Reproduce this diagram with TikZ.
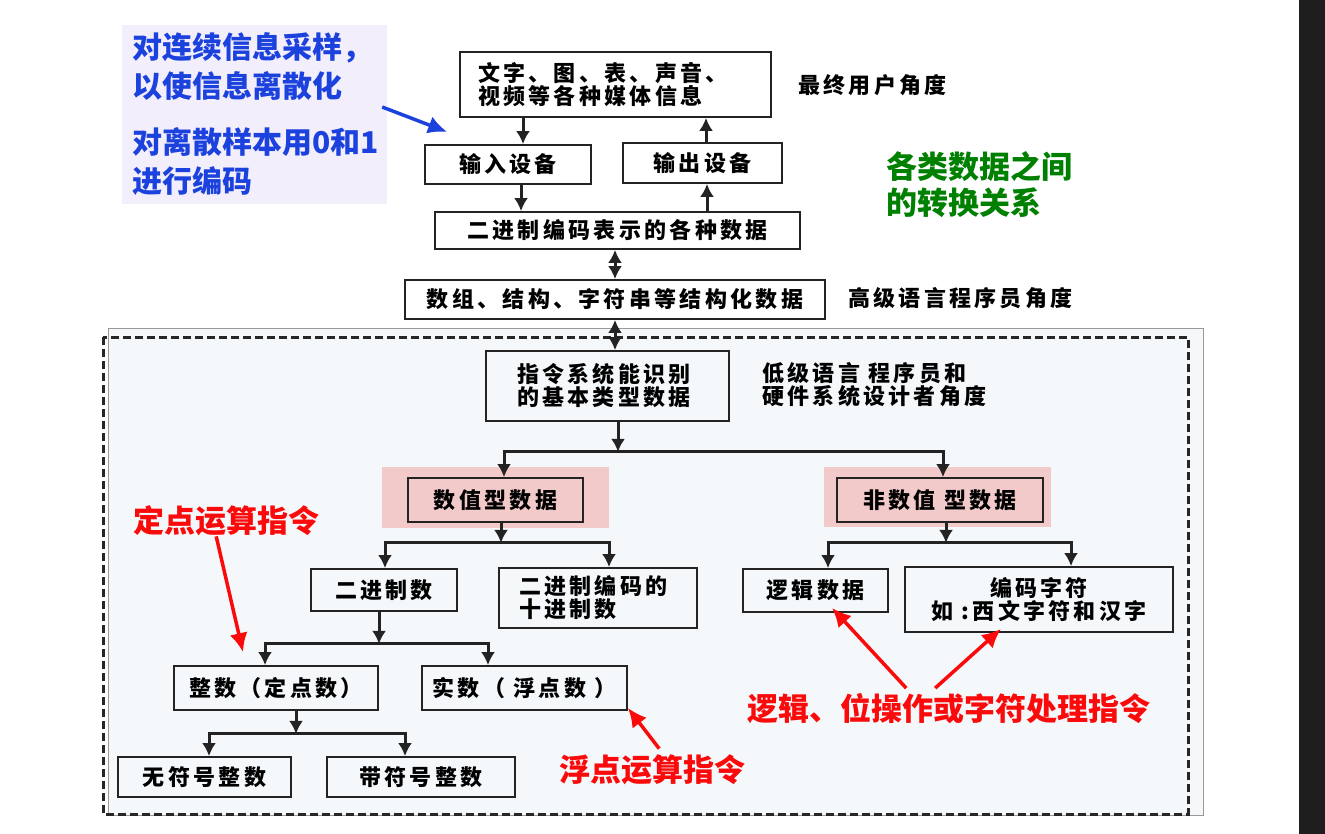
\documentclass[tikz,border=0pt]{standalone}
\usepackage{fontspec}
\setmainfont{Noto Sans CJK SC}
\newfontfamily\boxfont{Noto Sans CJK SC}[LetterSpace=15]
\usepackage{tikz}
\usetikzlibrary{positioning, calc, arrows.meta, decorations.markings}

\definecolor{lineGray}{RGB}{35,35,35}
\definecolor{panelBg}{RGB}{244,248,250}
\definecolor{noteBg}{RGB}{243,238,252}
\definecolor{pinkBg}{RGB}{243,202,202}
\definecolor{noteBlue}{RGB}{28,66,222}
\definecolor{noteRed}{RGB}{250,10,10}
\definecolor{noteGreen}{RGB}{0,128,0}
\definecolor{darkStrip}{RGB}{30,30,30}

\tikzstyle{Arrow} = [
    line width=3pt, lineGray,
    -{Latex[length=13pt, width=14pt]}
]
\tikzstyle{DArrow} = [
    line width=3pt, lineGray,
    {Latex[length=13pt, width=14pt]}-{Latex[length=13pt, width=14pt]}
]
\tikzstyle{RedArrow} = [
    line width=3.5pt, noteRed,
    -{Latex[length=19pt, width=18pt]}
]

\begin{document}
\begin{tikzpicture}[
x=1pt, y=-1pt,
box/.style={
    draw=lineGray,
    line width=1.8pt,
    font=\boxfont\bfseries\fontsize{22}{23}\selectfont
    },
side/.style={
    inner sep=0pt,
    align=left,
    font=\boxfont\bfseries\fontsize{22}{23}\selectfont
    },
remark/.style={
    inner sep=0pt,
    align=left,
    font=\bfseries\fontsize{31}{36}\selectfont
    }
]

\useasboundingbox (0,0) rectangle (1325,834);
\fill[white] (0,0) rectangle (1325,834);
\fill[darkStrip] (1299,0) rectangle (1325,834);
\filldraw[fill=panelBg, draw=gray!80, line width=0.8pt] (108,328) rectangle (1203,815);
\draw[line width=3pt, black!85, dash pattern=on 8pt off 4pt] (103,337) rectangle (1188,814);

\node [box, minimum width=311pt, minimum height=65pt, text width=275pt, inner xsep=18pt, align=left] (1) at (615.5,84.5) {文字、图、表、声音、\\视频等各种媒体信息};
\node [side, anchor=west] (2) at (798,85) {最终用户角度};
\node [box, minimum width=166pt, minimum height=39pt] (3) at (508,164.5) {输入设备};
\node [box, minimum width=159pt, minimum height=40pt] (4) at (702.5,163) {输出设备};
\node [box, minimum width=365pt, minimum height=37pt] (5) at (617.5,230.5) {二进制编码表示的各种数据};
\node [box, minimum width=420pt, minimum height=39pt] (6) at (615,299.5) {数组、结构、字符串等结构化数据};
\node [side, anchor=west] (7) at (848,298) {高级语言程序员角度};

\node [fill=noteBg, minimum width=265pt, minimum height=179pt, text width=245pt, inner xsep=10pt, inner ysep=0pt, align=left, text=noteBlue, font=\bfseries\fontsize{30}{39}\selectfont] (8) at (254.5,114.5) {对连续信息采样，\\以使信息离散化\\[17pt]对离散样本用0和1\\进行编码};

\node [box, minimum width=243pt, minimum height=70pt, text width=181pt, inner xsep=31pt, align=left] (9) at (607.5,386) {指令系统能识别\\的基本类型数据};
\node [side, anchor=west] (10) at (762,384.5) {低级语言 程序员和\\硬件系统设计者角度};

\node [fill=pinkBg, minimum width=227pt, minimum height=61pt] (11) at (495.5,497.5) {};
\node [box, minimum width=175pt, minimum height=44pt] (12) at (495.5,500) {数值型数据};
\node [fill=pinkBg, minimum width=227pt, minimum height=60pt] (13) at (937.5,497) {};
\node [box, minimum width=206pt, minimum height=44pt] (14) at (940,500) {非数值 型数据};

\node [box, minimum width=146pt, minimum height=42pt] (15) at (384,590) {二进制数};
\node [box, minimum width=198pt, minimum height=60pt, text width=158pt, inner xsep=20pt, align=left] (16) at (598,598) {二进制编码的\\十进制数};
\node [box, minimum width=145pt, minimum height=43pt] (17) at (815.5,590.5) {逻辑数据};
\node [box, minimum width=268pt, minimum height=65pt, align=center] (18) at (1039,599.5) {编码字符\\如 :西文字符和汉字};
\node [box, minimum width=204pt, minimum height=44pt] (19) at (276,688) {整数（定点数）};
\node [box, minimum width=205pt, minimum height=44pt] (20) at (524.5,688) {实数（ 浮点数 ）};
\node [box, minimum width=173pt, minimum height=40pt] (21) at (204.5,777) {无符号整数};
\node [box, minimum width=188pt, minimum height=40pt] (22) at (421,777) {带符号整数};

\node [remark, text=noteGreen, anchor=west] (23) at (886,185) {各类数据之间\\的转换关系};
\node [remark, text=noteRed, anchor=west] (24) at (133,521) {定点运算指令};
\node [remark, text=noteRed, anchor=west] (25) at (559,770) {浮点运算指令};
\node [remark, text=noteRed, anchor=west] (26) at (747,709) {逻辑、位操作或字符处理指令};

\coordinate (s1) at ($(9.south)+(10.5,30)$);
\coordinate (s2) at ($(12.south)+(5.5,20)$);
\coordinate (s3) at ($(14.south)+(6,20)$);
\coordinate (s4) at ($(15.south)+(-5,32)$);
\coordinate (s5) at ($(19.south)+(20,23)$);
\coordinate (b1) at ($(1.south west)+(-12,14)$);

\draw[Arrow] ([xshift=15pt]3.north |- 1.south) -- ([xshift=15pt]3.north);
\draw[Arrow] ([xshift=3.5pt]4.north) -- ([xshift=3.5pt]4.north |- 1.south);
\draw[Arrow] ([xshift=13pt]3.south) -- ([xshift=13pt]3.south |- 5.north);
\draw[Arrow] ([xshift=4.5pt]4.south |- 5.north) -- ([xshift=4.5pt]4.south);
\draw[DArrow] (6.north |- 5.south) -- (6.north);
\draw[DArrow] (6.south) -- (6.south |- 9.north);

\draw[Arrow] ([xshift=10.5pt]9.south) -- (s1);
\draw[Arrow] (s1) -| ([xshift=8.5pt]12.north);
\draw[Arrow] (s1) -| ([xshift=3pt]14.north);
\draw[Arrow] ([xshift=5.5pt]12.south) -- (s2);
\draw[Arrow] (s2) -| ([xshift=1pt]15.north);
\draw[Arrow] (s2) -| ([xshift=11pt]16.north);
\draw[Arrow] ([xshift=6pt]14.south) -- (s3);
\draw[Arrow] (s3) -| ([xshift=12.5pt]17.north);
\draw[Arrow] (s3) -| ([xshift=32pt]18.north);
\draw[Arrow] ([xshift=-5pt]15.south) -- (s4);
\draw[Arrow] (s4) -| ([xshift=-11pt]19.north);
\draw[Arrow] (s4) -| ([xshift=-36.5pt]20.north);
\draw[Arrow] ([xshift=20pt]19.south) -- (s5);
\draw[Arrow] (s5) -| ([xshift=4.5pt]21.north);
\draw[Arrow] (s5) -| ([xshift=-16pt]22.north);

\draw[RedArrow] ([xshift=-10pt]24.south) -- ([xshift=-33pt, yshift=13pt]19.north);
\draw[RedArrow] ([xshift=7pt, yshift=6pt]25.north) -- ([yshift=3pt]20.south east);
\draw[RedArrow] ([xshift=-42.5pt, yshift=5.5pt]26.north) -- ([xshift=16.5pt, yshift=5pt]17.south);
\draw[RedArrow] ([xshift=-13.5pt, yshift=5.5pt]26.north) -- ([xshift=-38pt, yshift=4pt]18.south);
\draw[RedArrow, noteBlue] ([xshift=-5pt, yshift=7.5pt]8.east) -- (b1);

\end{tikzpicture}
\end{document}
